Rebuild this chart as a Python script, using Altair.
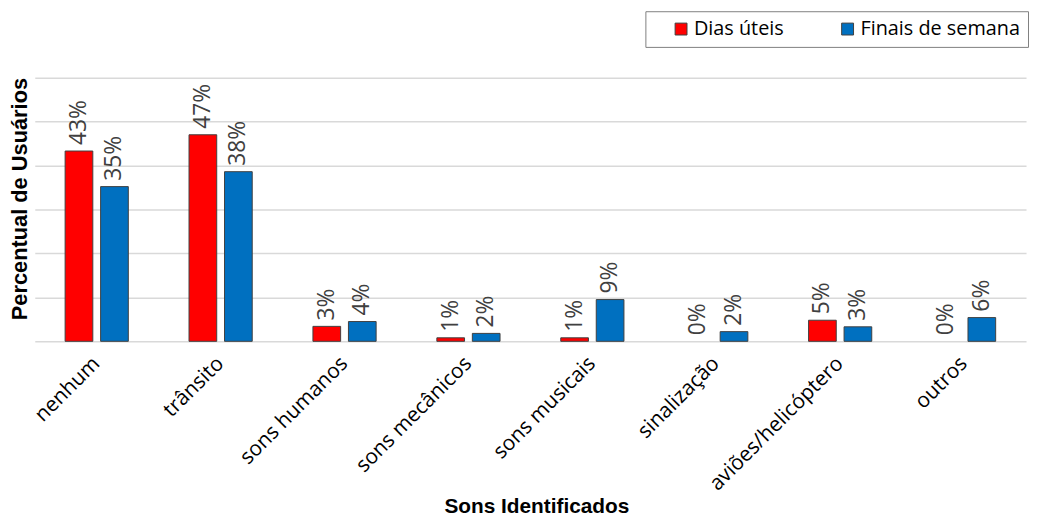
import altair as alt
import pandas as pd

categories = ["nenhum", "trânsito", "sons humanos", "sons mecânicos",
              "sons musicais", "sinalização", "aviões/helicóptero", "outros"]
series = ["Dias úteis", "Finais de semana"]
dias_uteis = [43.3, 47.0, 3.4, 0.8, 0.8, 0.0, 4.8, 0.0]
finais_semana = [35.2, 38.6, 4.5, 1.8, 9.5, 2.2, 3.3, 5.4]
labels_dias = ["43%", "47%", "3%", "1%", "1%", "0%", "5%", "0%"]
labels_finais = ["35%", "38%", "4%", "2%", "9%", "2%", "3%", "6%"]
colors = ["#FF0000", "#0070C0"]

rows = []
for c, v, l in zip(categories, dias_uteis, labels_dias):
    rows.append({"cat": c, "serie": series[0], "valor": v, "rotulo": l})
for c, v, l in zip(categories, finais_semana, labels_finais):
    rows.append({"cat": c, "serie": series[1], "valor": v, "rotulo": l})
df = pd.DataFrame(rows)

x_enc = alt.X("cat:N", sort=categories,
              scale=alt.Scale(paddingInner=0.49, paddingOuter=0.245),
              axis=alt.Axis(title="Sons Identificados", labelAngle=-45,
                            labelAlign="right", labelBaseline="middle",
                            labelFontSize=21, labelFont="Open Sans",
                            labelColor="#000000", labelPadding=19, labelLimit=400,
                            domain=False, ticks=False, grid=False,
                            titleFont="Liberation Sans", titleFontSize=21,
                            titleFontWeight="bold", titleColor="#000000",
                            titlePadding=2, titleX=506))
xoff_enc = alt.XOffset("serie:N", sort=series,
                       scale=alt.Scale(paddingInner=0.22, paddingOuter=0))
y_enc = alt.Y("valor:Q", scale=alt.Scale(domain=[0, 60], nice=False),
              axis=alt.Axis(title="Percentual de Usuários", values=[0, 10, 20, 30, 40, 50, 60],
                            labels=False, ticks=False, domain=False,
                            gridColor="#d9d9d9", gridWidth=1.5,
                            titleFont="Liberation Sans", titleFontSize=22,
                            titleFontWeight="bold", titleColor="#000000",
                            titlePadding=3, titleY=122))

bars = alt.Chart(df).mark_bar(stroke="#404040", strokeWidth=1).encode(
    x=x_enc,
    xOffset=xoff_enc,
    y=y_enc,
    strokeOpacity=alt.condition(alt.datum.valor > 0, alt.value(1), alt.value(0)),
    color=alt.Color("serie:N", sort=series,
                    scale=alt.Scale(domain=series, range=colors),
                    legend=alt.Legend(title=None, orient="none", direction="horizontal",
                                      legendX=616, legendY=-67,
                                      symbolType="square", symbolSize=144,
                                      symbolStrokeColor="#404040", symbolStrokeWidth=1,
                                      labelFontSize=20, labelFont="Open Sans",
                                      labelColor="#000000", labelOffset=3, labelLimit=400,
                                      columnPadding=36, padding=8, symbolOffset=18,
                                      strokeColor="#808080", fillColor="#ffffff")),
)

texts = alt.Chart(df).mark_text(angle=270, align="left", baseline="middle", dx=6,
                                fontSize=23, font="Open Sans", color="#404040").encode(
    x=alt.X("cat:N", sort=categories),
    xOffset=alt.XOffset("serie:N", sort=series),
    y=alt.Y("valor:Q"),
    text="rotulo:N",
)

chart = (bars + texts).properties(
    width=1000, height=266,
    padding={"left": 0, "top": 0, "right": 0, "bottom": 0},
).configure_view(stroke=None)

chart.save("out.html", embed_options={"renderer": "svg", "actions": False})
